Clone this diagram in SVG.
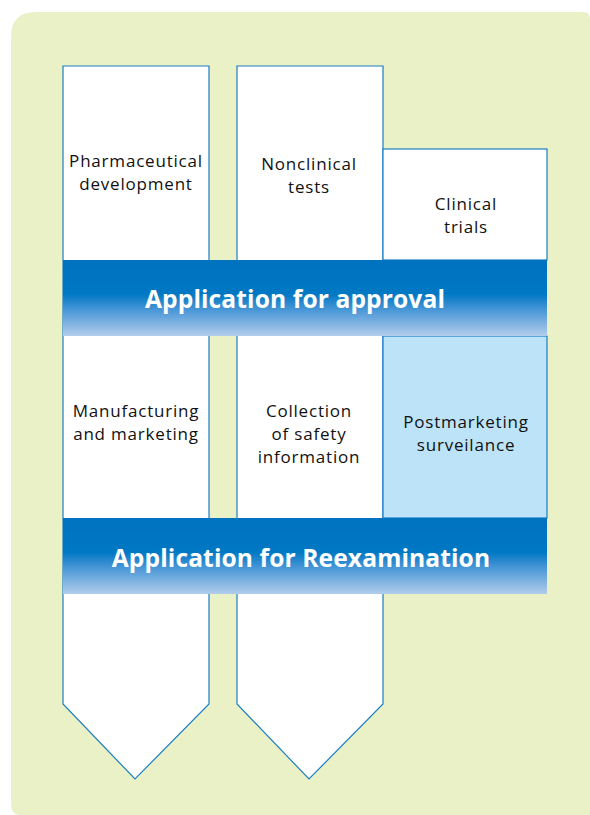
<svg xmlns="http://www.w3.org/2000/svg" width="590" height="815" viewBox="0 0 590 815">
  <defs>
    <linearGradient id="band" x1="0" y1="0" x2="0" y2="1">
      <stop offset="0" stop-color="#0072bf"/>
      <stop offset="0.45" stop-color="#0078c4"/>
      <stop offset="0.62" stop-color="#3d91d4"/>
      <stop offset="1" stop-color="#b2cdec"/>
    </linearGradient>
  </defs>
  <style>
    .col { fill: #ffffff; stroke: #1a7ec4; stroke-width: 1.2; }
    .pms { fill: #bde3f8; stroke: #1a7ec4; stroke-width: 1.2; }
    .band { fill: url(#band); }
    .lbl { font-family: "Open Sans", "Noto Sans", sans-serif; font-size: 17px; letter-spacing: 0.8px; fill: #111111; text-anchor: middle; }
    .title { font-family: "Open Sans", "Noto Sans", sans-serif; font-size: 24.6px; letter-spacing: 0.1px; font-weight: bold; fill: #ffffff; text-anchor: middle; }
  </style>
  <path d="M36,12 H583 Q590,12 590,19 V815 H21 Q11,815 11,805 V37 Q11,12 36,12 Z" fill="#ebf1c7"/>
  <g id="connectors"/>
  <g id="col-pharma">
    <path class="col" d="M63,66 H209 V704 L135,779 L63,704 Z"/>
    <text class="lbl" x="136" y="167">Pharmaceutical</text>
    <text class="lbl" x="136" y="190">development</text>
  </g>
  <g id="col-nonclinical">
    <path class="col" d="M237,66 H383 V704 L309,779 L237,704 Z"/>
    <text class="lbl" x="309" y="170">Nonclinical</text>
    <text class="lbl" x="309" y="193">tests</text>
  </g>
  <g id="clinical">
    <rect class="col" x="383" y="149" width="164" height="111"/>
    <text class="lbl" x="466" y="210">Clinical</text>
    <text class="lbl" x="466" y="233">trials</text>
  </g>
  <g id="postmarketing">
    <rect class="pms" x="383" y="336" width="164" height="182"/>
    <text class="lbl" x="466" y="428">Postmarketing</text>
    <text class="lbl" x="466" y="451">surveilance</text>
  </g>
  <g id="manufacturing">
    <text class="lbl" x="136" y="417">Manufacturing</text>
    <text class="lbl" x="136" y="440">and marketing</text>
  </g>
  <g id="safety">
    <text class="lbl" x="309" y="417">Collection</text>
    <text class="lbl" x="309" y="440">of safety</text>
    <text class="lbl" x="309" y="463">information</text>
  </g>
  <g id="band-approval">
    <rect class="band" x="63" y="260" width="484" height="76"/>
    <text class="title" x="295" y="308">Application for approval</text>
  </g>
  <g id="band-reexam">
    <rect class="band" x="63" y="518" width="484" height="76"/>
    <text class="title" x="301" y="567">Application for Reexamination</text>
  </g>
</svg>
